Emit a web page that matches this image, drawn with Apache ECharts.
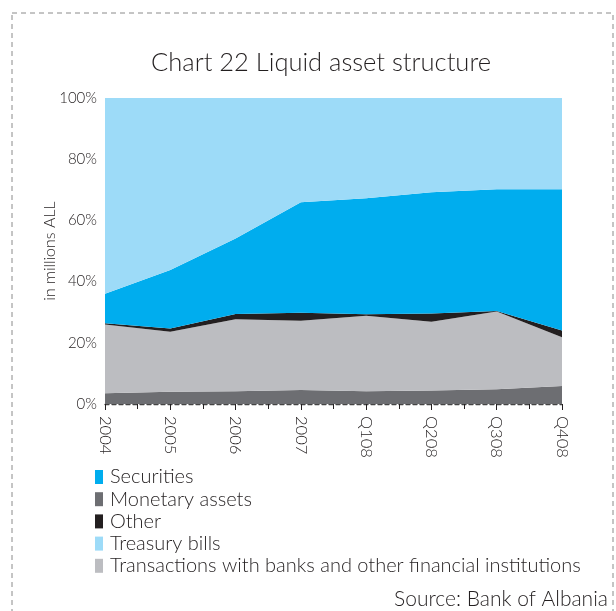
<!DOCTYPE html>
<html>
<head>
<meta charset="utf-8">
<script src="https://cdn.jsdelivr.net/npm/echarts@6/dist/echarts.min.js"></script>
<style>
  html, body { margin: 0; padding: 0; background: #fff; }
  #chart { width: 616px; height: 611px; }
</style>
</head>
<body>
<div id="chart"></div>
<script>
// Periods on the horizontal axis
const categories = ['2004', '2005', '2006', '2007', 'Q108', 'Q208', 'Q308', 'Q408'];

// Shares of liquid assets, percent of total (stacked bottom to top)
const monetaryAssets = [3.5, 4.0, 4.2, 4.6, 4.2, 4.4, 4.8, 5.9];
const transactionsBanks = [22.5, 19.6, 23.5, 22.6, 24.6, 22.5, 25.4, 15.9];
const other = [0.4, 1.1, 1.7, 2.6, 0.5, 2.7, 0.2, 2.2];
const securities = [9.6, 19.1, 24.7, 36.1, 37.9, 39.6, 39.8, 46.2];
const treasuryBills = [64.0, 56.2, 45.9, 34.1, 32.8, 30.8, 29.8, 29.8];

// Vertical axis tick values
const yTicks = [0, 20, 40, 60, 80, 100];

const FONT = 'Lato';
const TEXT = '#231F20';

// Half-step positions used only to draw the in-between ticks
const halfSteps = [];
for (let i = 0; i < categories.length * 2 - 1; i++) halfSteps.push('');

const chart = echarts.init(document.getElementById('chart'), null, { renderer: 'canvas' });

function area(name, data, color) {
  return {
    name: name,
    type: 'line',
    stack: 'total',
    data: data,
    symbol: 'none',
    lineStyle: { width: 0 },
    areaStyle: { color: color, opacity: 1 },
    itemStyle: { color: color },
    emphasis: { disabled: true },
    silent: true
  };
}

chart.setOption({
  animation: false,
  backgroundColor: '#fff',
  textStyle: { fontFamily: FONT, color: TEXT },
  title: {
    text: 'Chart 22 Liquid asset structure',
    left: 316,
    textAlign: 'center',
    top: 45,
    textStyle: { fontFamily: FONT, fontWeight: 300, fontSize: 25.5, color: TEXT }
  },
  graphic: [
    {
      type: 'rect',
      shape: { x: 12, y: 13, width: 601, height: 640 },
      style: { fill: null, stroke: '#8a8a8a', lineWidth: 1, lineDash: [5, 4] },
      silent: true
    },
    {
      type: 'text',
      right: 8,
      top: 589,
      style: { text: 'Source: Bank of Albania', font: '300 21px ' + FONT, fill: TEXT }
    }
  ],
  legend: {
    orient: 'vertical',
    left: 90,
    top: 462,
    itemWidth: 8,
    itemHeight: 14,
    itemGap: 2.2,
    icon: 'rect',
    selectedMode: false,
    data: ['Securities', 'Monetary assets', 'Other', 'Treasury bills',
           'Transactions with banks and other financial institutions'],
    textStyle: { fontFamily: FONT, fontWeight: 300, fontSize: 20, color: TEXT, lineHeight: 20, padding: [0, 0, 0, 2] }
  },
  grid: { left: 105, right: 54, top: 98, bottom: 207 },
  xAxis: [
    {
      type: 'category',
      data: categories,
      boundaryGap: false,
      position: 'bottom',
      axisLine: { show: true, lineStyle: { color: '#444', type: [4, 3], width: 1.3 } },
      axisTick: { show: true, length: 6, lineStyle: { color: TEXT } },
      axisLabel: { rotate: -90, fontFamily: FONT, fontWeight: 300, fontSize: 16.5, color: TEXT, margin: 12 },
      splitLine: { show: false }
    },
    {
      type: 'category',
      data: halfSteps,
      boundaryGap: false,
      position: 'bottom',
      axisLine: { show: false },
      axisTick: { show: true, length: 5, interval: 0, lineStyle: { color: TEXT } },
      axisLabel: { show: false },
      splitLine: { show: false }
    }
  ],
  yAxis: {
    type: 'value',
    min: yTicks[0],
    max: yTicks[yTicks.length - 1],
    interval: yTicks[1] - yTicks[0],
    name: 'in millions ALL',
    nameLocation: 'middle',
    nameGap: 47,
    nameMoveOverlap: false,
    nameTextStyle: { fontFamily: FONT, fontWeight: 300, fontSize: 16, color: TEXT },
    axisLine: { show: false },
    axisTick: { show: false },
    splitLine: { show: false },
    axisLabel: { formatter: '{value}%', fontFamily: FONT, fontWeight: 300, fontSize: 15, color: TEXT, margin: 8 }
  },
  series: [
    area('Monetary assets', monetaryAssets, '#6D6E72'),
    area('Transactions with banks and other financial institutions', transactionsBanks, '#BCBDC1'),
    area('Other', other, '#231F20'),
    area('Securities', securities, '#00ADEE'),
    area('Treasury bills', treasuryBills, '#9DDBF8')
  ]
});
</script>
</body>
</html>
